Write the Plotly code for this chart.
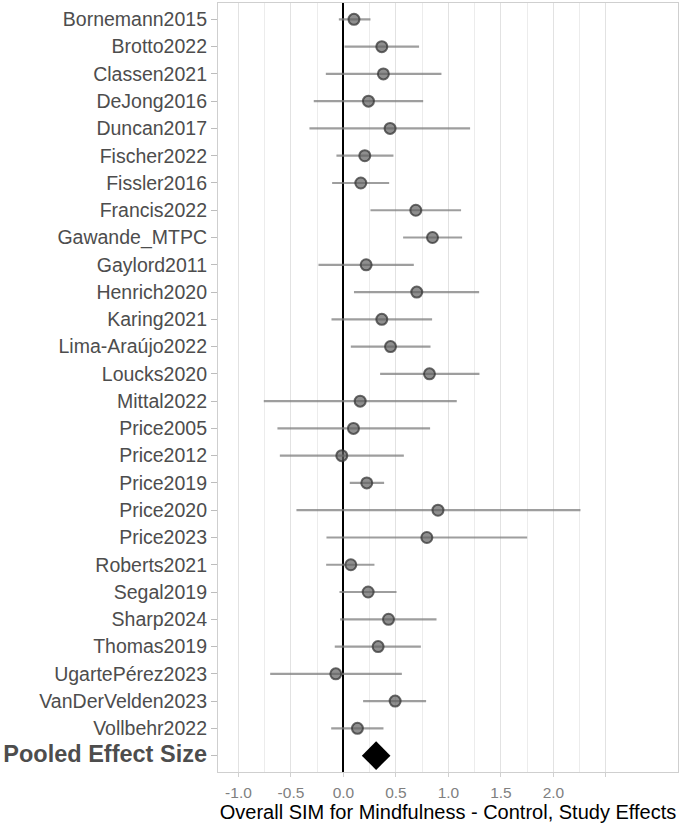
import plotly.graph_objects as go

studies = ["Bornemann2015", "Brotto2022", "Classen2021", "DeJong2016", "Duncan2017",
           "Fischer2022", "Fissler2016", "Francis2022", "Gawande_MTPC", "Gaylord2011",
           "Henrich2020", "Karing2021", "Lima-Araújo2022", "Loucks2020", "Mittal2022",
           "Price2005", "Price2012", "Price2019", "Price2020", "Price2023",
           "Roberts2021", "Segal2019", "Sharp2024", "Thomas2019", "UgartePérez2023",
           "VanDerVelden2023", "Vollbehr2022"]
effect = [0.10, 0.365, 0.38, 0.238, 0.444, 0.203, 0.165, 0.689, 0.848, 0.216,
          0.698, 0.365, 0.448, 0.819, 0.159, 0.095, -0.016, 0.222, 0.90, 0.794,
          0.07, 0.235, 0.429, 0.33, -0.073, 0.492, 0.133]
ci_low = [-0.044, 0.01, -0.168, -0.283, -0.324, -0.067, -0.108, 0.257, 0.568, -0.238,
          0.10, -0.114, 0.07, 0.349, -0.759, -0.629, -0.606, 0.06, -0.448, -0.162,
          -0.165, -0.038, -0.032, -0.083, -0.698, 0.187, -0.117]
ci_high = [0.257, 0.72, 0.933, 0.759, 1.206, 0.476, 0.435, 1.12, 1.13, 0.67,
           1.292, 0.844, 0.829, 1.295, 1.079, 0.825, 0.575, 0.387, 2.257, 1.749,
           0.295, 0.505, 0.886, 0.737, 0.556, 0.787, 0.381]
pooled_label = "Pooled Effect Size"
pooled_effect = 0.311

x_tickvals = [-1.0, -0.5, 0.0, 0.5, 1.0, 1.5, 2.0, 2.5]
x_ticktext = ["-1.0", "-0.5", "0.0", "0.5", "1.0", "1.5", "2.0", ""]
x_minor = [-0.75, -0.25, 0.25, 0.75, 1.25, 1.75, 2.25]
x_title = "Overall SIM for Mindfulness - Control, Study Effects"

categories = studies + [pooled_label]
ticktext = studies + ['<span style="font-size:23.5px;font-weight:bold">' + pooled_label + '</span>']

plus = [h - e for h, e in zip(ci_high, effect)]
minus = [e - l for e, l in zip(effect, ci_low)]

fig = go.Figure()
fig.add_trace(go.Scatter(
    x=effect, y=studies, mode="markers",
    error_x=dict(type="data", symmetric=False, array=plus, arrayminus=minus,
                 width=0, thickness=2.2, color="rgba(125,125,125,0.75)"),
    marker=dict(size=11, color="rgba(95,95,95,0.7)",
                line=dict(color="rgba(55,55,55,0.75)", width=2)),
    showlegend=False, hoverinfo="skip"))
fig.add_trace(go.Scatter(
    x=[pooled_effect], y=[pooled_label], mode="markers",
    marker=dict(symbol="diamond", size=22, color="black", line=dict(width=0)),
    showlegend=False, hoverinfo="skip"))

font = "Liberation Sans, Arial, sans-serif"
fig.update_layout(
    width=685, height=824,
    margin=dict(l=218, r=7, t=3, b=52),
    plot_bgcolor="white", paper_bgcolor="white",
    font=dict(family=font),
    xaxis=dict(
        range=[-1.195, 3.186],
        tickvals=x_tickvals, ticktext=x_ticktext,
        tickfont=dict(size=15.5, color="#7f7f7f"),
        showgrid=True, gridcolor="#e2e2e2", gridwidth=1,
        minor=dict(tickvals=x_minor, showgrid=True, gridcolor="#ececec", gridwidth=1),
        zeroline=True, zerolinecolor="black", zerolinewidth=2,
        showline=True, linecolor="#cfcfcf", linewidth=1.2, mirror=True,
        ticks="outside", ticklen=4, tickcolor="#d0d0d0", tickwidth=1,
        ticklabelstandoff=2,
        automargin=False,
        title=dict(text=x_title, font=dict(size=20, color="black"), standoff=4),
    ),
    yaxis=dict(
        type="category", categoryorder="array", categoryarray=categories,
        tickvals=categories, ticktext=ticktext,
        range=[len(categories) - 1 + 0.6, -0.6],
        tickfont=dict(size=19.5, color="#4d4d4d"),
        showgrid=False, zeroline=False,
        showline=True, linecolor="#cfcfcf", linewidth=1.2, mirror=True,
        ticks="outside", ticklen=6, tickcolor="#bdbdbd", tickwidth=1,
        automargin=False,
    ),
)
fig.write_html("out.html", config={"displayModeBar": False},
               post_script="document.body.style.margin='0';document.body.style.overflow='hidden';")
